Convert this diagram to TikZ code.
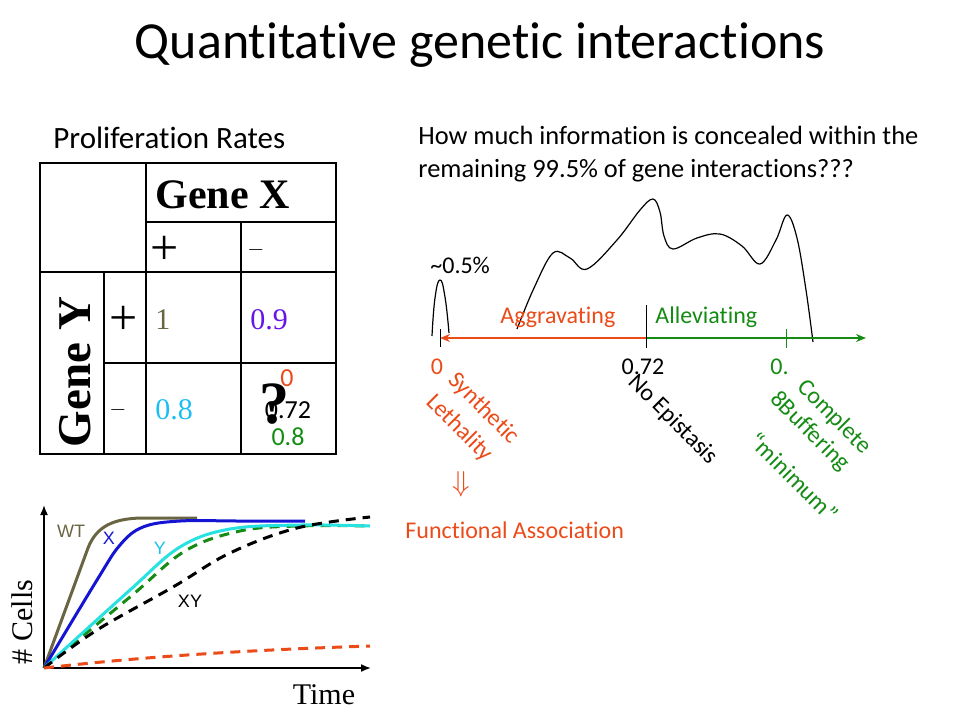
\documentclass[tikz,border=0pt]{standalone}
\usepackage{fontspec}
\setmainfont{Carlito}[Ligatures=NoCommon]
\newfontfamily\timesf{Liberation Serif}
\newfontfamily\arialf{Liberation Sans}
\usetikzlibrary{calc,arrows.meta}

\definecolor{aggred}{RGB}{235,75,25}
\definecolor{allgreen}{RGB}{20,140,20}
\definecolor{wtolive}{RGB}{105,100,65}
\definecolor{xblue}{RGB}{20,20,210}
\definecolor{ycyan}{RGB}{40,225,225}
\definecolor{ylabel}{RGB}{30,190,240}
\definecolor{xpurple}{RGB}{100,20,230}

\begin{document}
\begin{tikzpicture}[x=0.5pt,y=-0.5pt,
  titletext/.style={font=\fontsize{26}{30}\selectfont},
  bodytext/.style={font=\fontsize{15.5}{19}\selectfont,anchor=west,inner sep=0},
  asktext/.style={font=\fontsize{13.2}{16.5}\selectfont,anchor=north west,align=left,inner sep=0},
  labeltext/.style={font=\fontsize{12}{15.5}\selectfont,inner sep=0},
  slanttext/.style={labeltext,rotate=-45,anchor=north west,align=left},
  genetext/.style={font=\timesf\bfseries\fontsize{21}{24}\selectfont,inner sep=0},
  signtext/.style={font=\timesf\fontsize{25}{27}\selectfont,inner sep=0},
  cellnum/.style={font=\timesf\fontsize{15}{18}\selectfont,inner sep=0,anchor=west},
  plotlabel/.style={font=\arialf\fontsize{9}{11}\selectfont,inner sep=0},
  growth/.style={line width=1.5pt},
  growthdash/.style={line width=1.5pt,dash pattern=on 5pt off 3.5pt}]

\useasboundingbox (0,0) rectangle (960,720);

% Title
\node[titletext] (title) at (480,45) {Quantitative genetic interactions};

% Proliferation table
\node[bodytext] (rates) at (53,138) {Proliferation Rates};
\draw[line width=0.6pt] (40,163) rectangle (336,454);
\draw[line width=0.6pt] (146,163) -- (146,454);
\draw[line width=0.6pt] (146,222) -- (336,222);
\draw[line width=0.6pt] (241,222) -- (241,454);
\draw[line width=0.6pt] (40,272) -- (336,272);
\draw[line width=0.6pt] (104,272) -- (104,454);
\draw[line width=0.6pt] (104,363) -- (336,363);

\node[genetext,anchor=west] (genex) at (155,195) {Gene X};
\node[genetext,font=\timesf\bfseries\fontsize{23.5}{26}\selectfont,rotate=90] (geney) at (75,372) {Gene Y};
\node[signtext] (xplus) at (165,250) {+};
\node[signtext] (xminus) at (256,250) {\fontsize{11}{13}\selectfont $-$};
\node[signtext] (yplus) at (124,320) {+};
\node[signtext] (yminus) at (118,410) {\fontsize{11}{13}\selectfont $-$};
\node[cellnum,text=wtolive] (wt) at (155,320) {1};
\node[cellnum,text=xpurple] (xko) at (250,320) {0.9};
\node[cellnum,text=ylabel] (yko) at (155,410) {0.8};
\node[labeltext,font=\fontsize{13}{15}\selectfont,text=aggred] (xyzero) at (287,378) {0};
\node[labeltext,font=\fontsize{13}{15}\selectfont] (xyexp) at (288,410) {0.72};
\node[labeltext,font=\fontsize{13}{15}\selectfont,text=allgreen] (xymax) at (288,437) {0.8};
\node[font=\timesf\bfseries\fontsize{30}{32}\selectfont,inner sep=0] (ask) at (274,404) {?};

% Question
\node[asktext] (question) at (418,126) {How much information is concealed within the\\remaining 99.5\% of gene interactions???};

% Distribution of interactions
\draw[line width=0.6pt] plot[smooth,tension=0.8] coordinates {(432,336) (435,298) (440,280) (445,297) (449,333)};
\draw[line width=0.6pt] plot[smooth,tension=0.6] coordinates {(517,329) (534,288) (553,253) (570,258) (587,269) (617,240) (640,210) (653,199) (660,212) (664,236) (673,249) (697,238) (720,234) (742,246) (760,264) (776,240) (787,215) (797,238) (806,290) (813,342)};
\node[labeltext,anchor=west] (fewpct) at (430,265) {\textasciitilde0.5\%};

% Epsilon axis
\coordinate (t0) at (440,338);
\coordinate (t72) at (646,338);
\coordinate (t08) at (786,338);
\coordinate (axend) at (866,338);
\draw[aggred,line width=0.8pt,-{Stealth[length=5pt,width=4pt]}] (t72) -- (t0);
\draw[allgreen,line width=0.8pt,-{Stealth[length=5pt,width=4pt]}] (t72) -- (axend);
\draw[line width=0.5pt] ($(t0)+(0,-9)$) -- ($(t0)+(0,9)$);
\draw[line width=0.5pt] ($(t72)+(0,-33)$) -- ($(t72)+(0,10)$);
\draw[allgreen,line width=0.5pt] ($(t08)+(0,-9)$) -- ($(t08)+(0,10)$);
\node[labeltext,anchor=west,text=aggred] (aggr) at (500,317) {Aggravating};
\node[labeltext,anchor=west,text=allgreen] (allev) at (655,317) {Alleviating};
\node[labeltext,text=aggred] (zero) at (437,367) {0};
\node[labeltext] (noepi) at (643,367) {0.72};
\node[labeltext,anchor=west,text=allgreen] (buff) at (770,367) {0.};

% Slanted captions
\node[slanttext,text=aggred] (synleth) at (459,369) {Synthetic\\Lethality};
\node[slanttext] (epis) at (639,371) {No Epistasis};
\node[slanttext,text=allgreen] (compl) at (808,376) {Complete};
\node[slanttext,text=allgreen] (bufftext) at (781,388) {8Buffering};
\node[slanttext,text=allgreen] (minim) at (760,430) {\textquotedblleft minimum\textquotedblright};
\node[labeltext,text=aggred] (implies) at (461,484) {\fontsize{14}{16}\selectfont$\Downarrow$};
\node[labeltext,anchor=west,text=aggred] (funcass) at (405,530) {Functional Association};

% Growth curves
\coordinate (po) at (44,668);
\coordinate (ytop) at (44,505);
\coordinate (xend) at (371,668);
\draw[line width=0.8pt,-{Latex[length=5pt,width=4pt]}] (po) -- (ytop);
\draw[line width=0.8pt,-{Latex[length=5pt,width=4pt]}] (po) -- (xend);
\draw[growth,wtolive] (po) -- (88,548) .. controls (97,525) and (115,519) .. (140,518) -- (197,518);
\draw[growth,xblue] plot[smooth,tension=0.6] coordinates {(44,668) (97,580) (120,545) (143,527) (180,521) (240,521) (305,521)};
\draw[growthdash,allgreen] plot[smooth,tension=0.6] coordinates {(44,668) (130,597) (185,551) (240,531) (297,526) (370,526)};
\draw[growth,ycyan] plot[smooth,tension=0.6] coordinates {(44,668) (130,590) (180,547) (230,529) (300,525) (370,526)};
\draw[growthdash,black] plot[smooth,tension=0.6] coordinates {(44,668) (97,630) (173,587) (230,553) (297,528) (370,517)};
\draw[growthdash,aggred] (po) .. controls (150,656) and (250,650) .. (370,646);
\node[plotlabel,text=wtolive] (wtlab) at (71,531) {WT};
\node[plotlabel,text=xblue] (xlab) at (109,538) {X};
\node[plotlabel,text=ylabel] (ylab) at (160,548) {Y};
\node[plotlabel] (xylab) at (190,601) {XY};
\node[font=\timesf\fontsize{15}{17}\selectfont,inner sep=0,rotate=90] (cells) at (22,622) {\# Cells};
\node[font=\timesf\fontsize{15}{17}\selectfont,inner sep=0] (time) at (324,695) {Time};

\end{tikzpicture}
\end{document}
